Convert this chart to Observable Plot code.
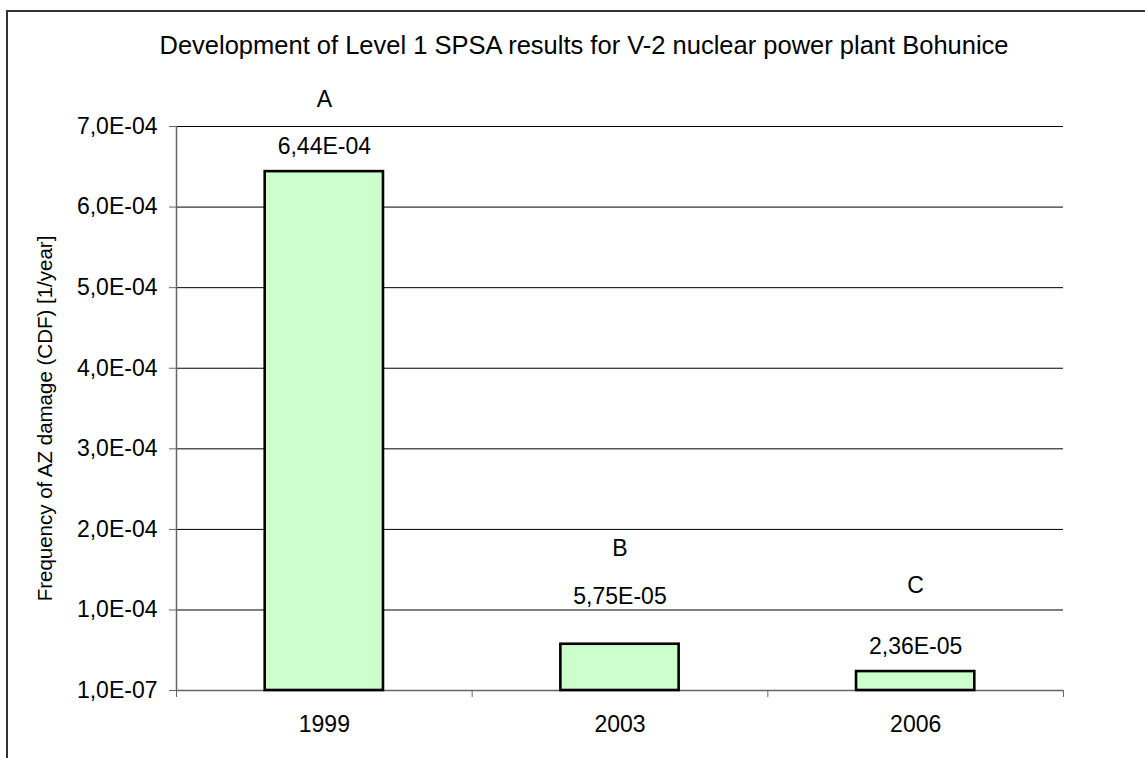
<!DOCTYPE html>
<html>
<head>
<meta charset="utf-8">
<script src="https://cdn.jsdelivr.net/npm/d3@7"></script>
<script src="https://cdn.jsdelivr.net/npm/@observablehq/plot@0.6"></script>
<style>
  html, body { margin: 0; padding: 0; background: #fff; }
  #wrap { position: relative; width: 1145px; height: 758px; overflow: hidden; }
  #frame { position: absolute; left: 6px; top: 10px; width: 1200px; height: 800px;
           border-left: 2px solid #333; border-top: 2px solid #333; }
  #chart { position: absolute; left: 0; top: 0; }
  svg { overflow: visible; }
</style>
</head>
<body>
<div id="wrap"><div id="frame"></div><div id="chart"></div></div>
<script>
const titleText = "Development of Level 1 SPSA results for V-2 nuclear power plant Bohunice";
const yLabel = "Frequency of AZ damage (CDF) [1/year]";
const years = ["1999", "2003", "2006"];
const cdf = [6.44e-4, 5.75e-5, 2.36e-5];
const valueLabels = ["6,44E-04", "5,75E-05", "2,36E-05"];
const studyLetters = ["A", "B", "C"];
const yTicks = [1e-7, 1e-4, 2e-4, 3e-4, 4e-4, 5e-4, 6e-4, 7e-4];
const yTickLabels = ["1,0E-07", "1,0E-04", "2,0E-04", "3,0E-04", "4,0E-04", "5,0E-04", "6,0E-04", "7,0E-04"];

const yMin = yTicks[0], yMax = yTicks[yTicks.length - 1];
const rows = years.map((y, i) => ({year: y, i, value: cdf[i], label: valueLabels[i], letter: studyLetters[i]}));
const boundaries = d3.range(years.length + 1);

const font = "'Liberation Sans', Arial, sans-serif";
const fs = 23;
const valueDy = [-25, -48, -25];
const letterDy = [-72, -96, -86];

const marks = [
  Plot.gridY(yTicks, {stroke: "#000", strokeOpacity: 1, strokeWidth: 1}),
  Plot.ruleY([yMin], {stroke: "#666", strokeWidth: 1.5}),
  Plot.ruleX([0], {stroke: "#666", strokeWidth: 1.5}),
  Plot.axisY({ticks: yTicks, tickFormat: d => yTickLabels[yTicks.indexOf(d)], tickSize: 7, tickPadding: 12,
              fontSize: fs, label: null, stroke: "#666", fill: "#000"}),
  Plot.axisX({ticks: boundaries, tickFormat: () => "", tickSize: 7, label: null, stroke: "#666"}),
  Plot.text(rows, {x: d => d.i + 0.5, text: "year", frameAnchor: "bottom", dy: 34, lineAnchor: "middle", fontSize: fs, fill: "#000"}),
  Plot.rectY(rows, {x1: d => d.i + 0.3, x2: d => d.i + 0.7, y1: yMin, y2: "value",
                    fill: "#ccffcc", stroke: "#000", strokeWidth: 2.6}),
  ...rows.map((r, k) => Plot.text([r], {x: d => d.i + 0.5, y: "value", text: "label", dy: valueDy[k],
                                         lineAnchor: "middle", fontSize: fs, fill: "#000"})),
  ...rows.map((r, k) => Plot.text([r], {x: d => d.i + 0.5, y: "value", text: "letter", dy: letterDy[k],
                                         lineAnchor: "middle", fontSize: fs, fill: "#000"})),
  Plot.text([titleText], {frameAnchor: "top", dx: -36, dy: -81, lineAnchor: "middle", fontSize: 25.5, fill: "#000"}),
  Plot.text([yLabel], {frameAnchor: "left", rotate: -90, dx: -131, dy: 10, textAnchor: "middle",
                       lineAnchor: "middle", fontSize: 20.5, fill: "#000"})
];

const chart = Plot.plot({
  width: 1145,
  height: 758,
  marginLeft: 176,
  marginRight: 82,
  marginTop: 126,
  marginBottom: 68,
  style: {fontFamily: font, fontSize: fs + "px", color: "#000", background: "transparent"},
  x: {type: "linear", domain: [0, years.length], axis: null},
  y: {type: "linear", domain: [yMin, yMax], axis: null},
  marks
});
document.getElementById("chart").appendChild(chart);
</script>
</body>
</html>
